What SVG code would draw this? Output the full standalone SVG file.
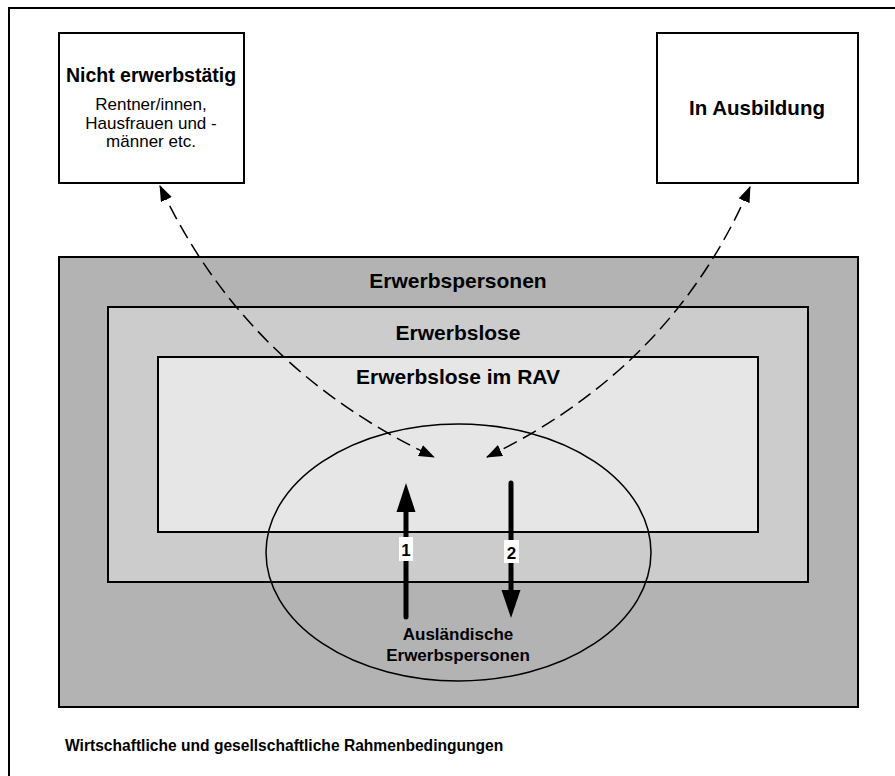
<svg xmlns="http://www.w3.org/2000/svg" width="895" height="776" viewBox="0 0 895 776">
  <style>
    .box { stroke: #000; stroke-width: 2; }
    .bold { font-family: "Liberation Sans", Arial, sans-serif; font-weight: bold; fill: #000; text-anchor: middle; }
    .reg { font-family: "Liberation Sans", Arial, sans-serif; fill: #000; text-anchor: middle; }
    .dash { fill: none; stroke: #000; stroke-width: 1.5; stroke-dasharray: 15 7; }
    .flow { stroke: #000; stroke-width: 5; stroke-linecap: round; }
  </style>
  <defs>
    <marker id="head" viewBox="0 0 16 12" refX="15" refY="6" markerWidth="16" markerHeight="12" markerUnits="userSpaceOnUse" orient="auto-start-reverse">
      <path d="M0,0 L16,6 L0,12 Z" fill="#000"/>
    </marker>
  </defs>

  <rect width="895" height="776" fill="#fff"/>
  <!-- outer frame -->
  <rect x="9" y="8" width="900" height="800" fill="none" stroke="#000" stroke-width="2"/>

  <g id="nicht-erwerbstaetig">
    <rect class="box" x="59" y="33" width="185" height="150" fill="#fff"/>
    <text class="bold" x="151" y="82" font-size="19.5">Nicht erwerbstätig</text>
    <text class="reg" x="151" y="110" font-size="17">Rentner/innen,</text>
    <text class="reg" x="151" y="128.5" font-size="17">Hausfrauen und -</text>
    <text class="reg" x="151" y="147" font-size="17">männer etc.</text>
  </g>

  <g id="in-ausbildung">
    <rect class="box" x="657" y="33" width="201" height="150" fill="#fff"/>
    <text class="bold" x="757" y="115" font-size="20.5">In Ausbildung</text>
  </g>

  <g id="erwerbspersonen">
    <rect class="box" x="59" y="257" width="799" height="450" fill="#b3b3b3"/>
    <text class="bold" x="458" y="288" font-size="21">Erwerbspersonen</text>
  </g>

  <g id="erwerbslose">
    <rect class="box" x="108" y="307" width="700" height="275" fill="#cccccc"/>
    <text class="bold" x="458" y="340" font-size="21">Erwerbslose</text>
  </g>

  <g id="erwerbslose-rav">
    <rect class="box" x="158" y="357" width="600" height="175" fill="#e6e6e6"/>
    <text class="bold" x="458" y="384" font-size="21">Erwerbslose im RAV</text>
  </g>

  <g id="auslaendische">
    <ellipse cx="458.5" cy="552.5" rx="192.5" ry="128.5" fill="none" stroke="#000" stroke-width="1.5"/>
    <text class="bold" x="458" y="640" font-size="17">Ausländische</text>
    <text class="bold" x="458" y="661" font-size="17">Erwerbspersonen</text>
  </g>

  <g id="connectors">
    <path class="dash" d="M160,186 Q245,368 434,457" marker-start="url(#head)" marker-end="url(#head)"/>
    <path class="dash" d="M750,187 Q672,368 487,457" marker-start="url(#head)" marker-end="url(#head)"/>

    <line class="flow" x1="406" y1="617" x2="406" y2="508"/>
    <polygon points="406,483 396.5,512 415.5,512" fill="#000"/>
    <line class="flow" x1="511" y1="483" x2="511" y2="594"/>
    <polygon points="511,618 501.5,590 520.5,590" fill="#000"/>

    <rect x="399" y="537" width="14" height="24" fill="#fff"/>
    <text class="bold" x="406" y="556" font-size="17">1</text>
    <rect x="504" y="540" width="15" height="23" fill="#fff"/>
    <text class="bold" x="511.5" y="559" font-size="17">2</text>
  </g>

  <text x="65" y="751" font-family="Liberation Sans, Arial, sans-serif" font-weight="bold" font-size="15.6" fill="#000">Wirtschaftliche und gesellschaftliche Rahmenbedingungen</text>
</svg>
